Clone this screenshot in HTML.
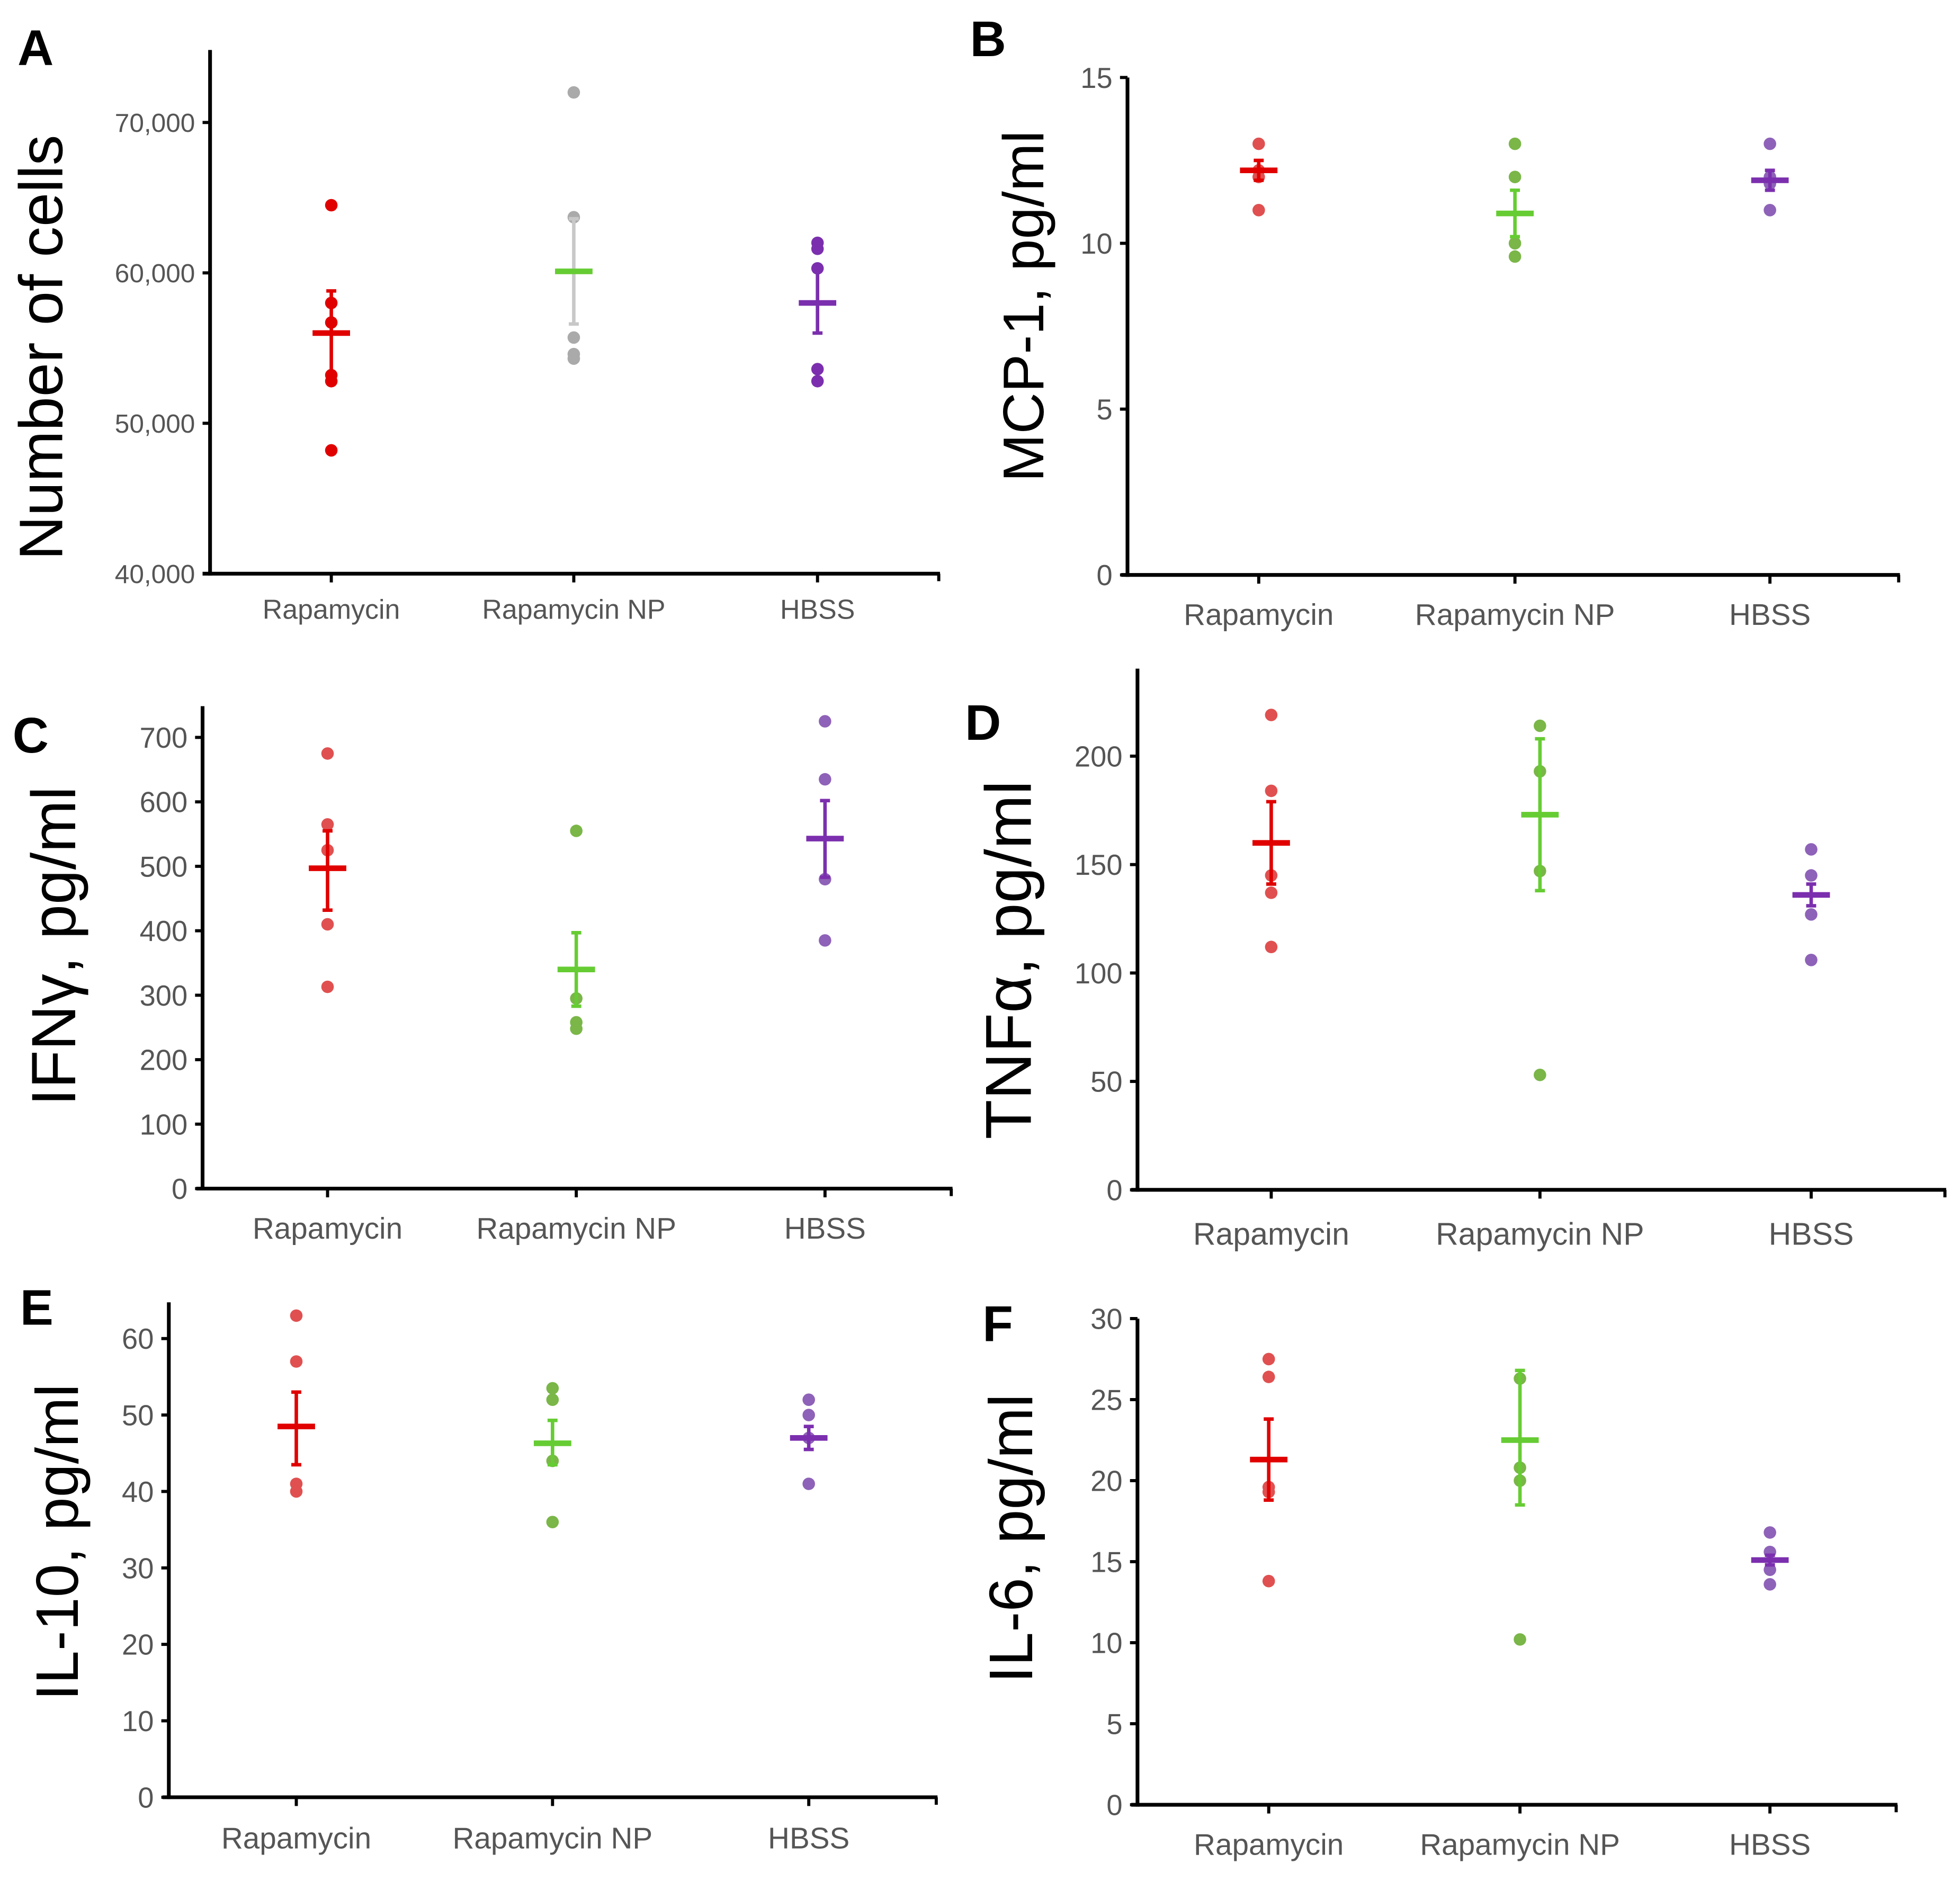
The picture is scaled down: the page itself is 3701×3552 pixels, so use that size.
<!DOCTYPE html>
<html><head><meta charset="utf-8">
<style>
html,body{margin:0;padding:0;background:#fff;}
svg{display:block;}
text{font-family:"Liberation Sans",Arial,sans-serif;}
</style></head>
<body>
<svg id="fig" width="3701" height="3552" viewBox="0 0 1568 1505" xmlns="http://www.w3.org/2000/svg"></svg>
<script>
// ---- data ----
const categories = ["Rapamycin", "Rapamycin NP", "HBSS"];

const aTicks = ["40,000","50,000","60,000","70,000"];
const aTickVals = [40000,50000,60000,70000];
const aPts = [[64500,58000,56700,53200,52800,48200],[72000,63700,55700,54600,54300],[62000,61600,60300,53600,52800]];
const aMean = [56000,60100,58000];
const aLo = [53200,56600,56000];
const aHi = [58800,63600,60300];

const bTicks = ["0","5","10","15"];
const bTickVals = [0,5,10,15];
const bPts = [[13,12.2,12,11],[13,12,10,9.6],[13,12,11.8,11]];
const bMean = [12.2,10.9,11.9];
const bLo = [11.9,10.2,11.6];
const bHi = [12.5,11.6,12.2];

const cTicks = ["0","100","200","300","400","500","600","700"];
const cTickVals = [0,100,200,300,400,500,600,700];
const cPts = [[675,565,525,410,313],[555,295,258,248],[725,635,480,385]];
const cMean = [497,340,543];
const cLo = [432,283,483];
const cHi = [555,397,602];

const dTicks = ["0","50","100","150","200"];
const dTickVals = [0,50,100,150,200];
const dPts = [[219,184,145,137,112],[214,193,147,53],[157,145,127,106]];
const dMean = [160,173,136];
const dLo = [141,138,131];
const dHi = [179,208,141];

const eTicks = ["0","10","20","30","40","50","60"];
const eTickVals = [0,10,20,30,40,50,60];
const ePts = [[63,57,41,40],[53.5,52,44,36],[52,50,47,41]];
const eMean = [48.5,46.3,47];
const eLo = [43.5,43.5,45.5];
const eHi = [53,49.3,48.5];

const fTicks = ["0","5","10","15","20","25","30"];
const fTickVals = [0,5,10,15,20,25,30];
const fPts = [[27.5,26.4,19.6,19.3,13.8],[26.3,20.8,20,10.2],[16.8,15.6,14.5,13.6]];
const fMean = [21.3,22.5,15.1];
const fLo = [18.8,18.5,14.8];
const fHi = [23.8,26.8,15.4];

// ---- rendering ----
const NS = "http://www.w3.org/2000/svg";
const svg = document.getElementById("fig");
function mk(tag, attrs, parent){ const e=document.createElementNS(NS,tag); for(const k in attrs) e.setAttribute(k,attrs[k]); (parent||svg).appendChild(e); return e; }

const panels = [
 {id:"a",letter:"A",lx:14,ly:52,title:"Number of cells",tx:32,ty:278,tfs:49,ax:168,top:40,bot:459,x0:162,x1:752,vmin:40000,vmax:70000,ymax:98,cx:[265,459,654],tk:aTicks,tv:aTickVals,pts:aPts,mean:aMean,lo:aLo,hi:aHi,tkfs:21,xlfs:22,xly:495,
  pc:["#e00000","#aaaaaa","#7b2fae"],mc:["#e00000","#66cc33","#7b2fae"],ec:["#e00000","#c8c8c8","#7b2fae"]},
 {id:"b",letter:"B",lx:776,ly:45,title:"MCP-1, pg/ml",tx:818,ty:245,tfs:46,ax:902,top:62,bot:460,x0:897,x1:1520,vmin:0,vmax:15,ymax:62,cx:[1007,1212,1416],tk:bTicks,tv:bTickVals,pts:bPts,mean:bMean,lo:bLo,hi:bHi,tkfs:23,xlfs:24,xly:500},
 {id:"c",letter:"C",lx:10,ly:602,title:"IFNγ, pg/ml",tx:42,ty:757,tfs:50,ax:162,top:565,bot:951,x0:157,x1:762,vmin:0,vmax:700,ymax:590,cx:[262,461,660],tk:cTicks,tv:cTickVals,pts:cPts,mean:cMean,lo:cLo,hi:cHi,tkfs:23,xlfs:24,xly:991},
 {id:"d",letter:"D",lx:772,ly:592,title:"TNFα, pg/ml",tx:806,ty:768,tfs:52,ax:910,top:535,bot:952,x0:905,x1:1557,vmin:0,vmax:200,ymax:605,cx:[1017,1232,1449],tk:dTicks,tv:dTickVals,pts:dPts,mean:dMean,lo:dLo,hi:dHi,tkfs:23,xlfs:25,xly:996},
 {id:"e",letter:"E",lx:16,ly:1060,title:"IL-10, pg/ml",tx:45,ty:1234,tfs:48,ax:135,top:1042,bot:1438,x0:130,x1:750,vmin:0,vmax:60,ymax:1071,cx:[237,442,647],tk:eTicks,tv:eTickVals,pts:ePts,mean:eMean,lo:eLo,hi:eHi,tkfs:23,xlfs:24,xly:1479},
 {id:"f",letter:"F",lx:786,ly:1073,title:"IL-6, pg/ml",tx:808,ty:1231,tfs:49,ax:910,top:1055,bot:1444,x0:905,x1:1518,vmin:0,vmax:30,ymax:1055,cx:[1015,1216,1416],tk:fTicks,tv:fTickVals,pts:fPts,mean:fMean,lo:fLo,hi:fHi,tkfs:23,xlfs:24,xly:1484}
];
const defPc=["#e05050","#7ab648","#8e62b8"], defMc=["#e00000","#66cc33","#7b2fae"];

panels.forEach(p=>{
  const g = mk("g",{});
  
  
  const y = v => p.bot - (v - p.vmin)/(p.vmax - p.vmin)*(p.bot - p.ymax);
  const pc=p.pc||defPc, mc=p.mc||defMc, ec=p.ec||defMc;
  const L = mk("text",{x:p.lx,y:p.ly,"font-size":40,"font-weight":"bold",fill:"#000"},g); L.textContent=p.letter;
  
  
  const T = mk("text",{x:0,y:0,"font-size":p.tfs,fill:"#000","text-anchor":"middle",transform:`translate(${p.tx+p.tfs*0.36},${p.ty}) rotate(-90)`},g); T.textContent=p.title;
  
  
  const ya = mk("line",{x1:p.ax,y1:p.top,x2:p.ax,y2:p.bot+1.5,stroke:"#000","stroke-width":3},g);
  
  
  const xa = mk("line",{x1:p.x0,y1:p.bot,x2:p.x1,y2:p.bot,stroke:"#000","stroke-width":3},g);
  
  
  mk("line",{x1:p.x1-1,y1:p.bot,x2:p.x1-1,y2:p.bot+6,stroke:"#000","stroke-width":2.5},g);
  p.tv.forEach((v,i)=>{
    const yy=y(v);
    mk("line",{x1:p.ax-6,y1:yy,x2:p.ax,y2:yy,stroke:"#000","stroke-width":2.5},g);
    const t=mk("text",{x:p.ax-12,y:yy+p.tkfs*0.36,"font-size":p.tkfs,fill:"#555","text-anchor":"end"},g); t.textContent=p.tk[i];
    
    
  });
  categories.forEach((c,i)=>{
    const cx=p.cx[i];
    mk("line",{x1:cx,y1:p.bot,x2:cx,y2:p.bot+7,stroke:"#000","stroke-width":2.5},g);
    const t=mk("text",{x:cx,y:p.xly,"font-size":p.xlfs,fill:"#555","text-anchor":"middle"},g); t.textContent=c;
    
    
    p.pts[i].forEach(v=>{
      const d=mk("circle",{cx:cx,cy:y(v),r:5,fill:pc[i]},g);
      
      
    });
    const eb=mk("g",{stroke:ec[i],"stroke-width":2.8},g);
    
    
    mk("line",{x1:cx,y1:y(p.lo[i]),x2:cx,y2:y(p.hi[i])},eb);
    mk("line",{x1:cx-4,y1:y(p.lo[i]),x2:cx+4,y2:y(p.lo[i])},eb);
    mk("line",{x1:cx-4,y1:y(p.hi[i]),x2:cx+4,y2:y(p.hi[i])},eb);
    const m=mk("line",{x1:cx-15,y1:y(p.mean[i]),x2:cx+15,y2:y(p.mean[i]),stroke:mc[i],"stroke-width":4.5},g);
    
    
  });
});
</script>
</body></html>
